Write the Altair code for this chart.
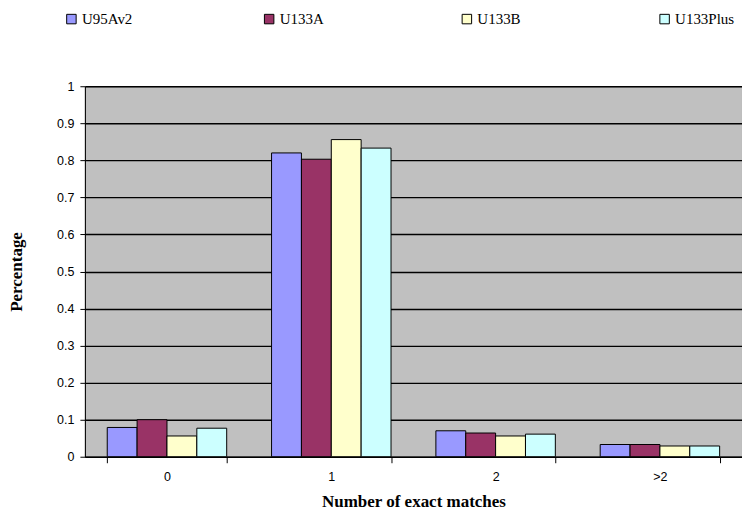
import altair as alt
import pandas as pd

categories = ["0", "1", "2", ">2"]
series = ["U95Av2", "U133A", "U133B", "U133Plus"]
colors = ["#9999FF", "#993366", "#FFFFCC", "#CCFFFF"]

u95av2 = [0.079, 0.820, 0.070, 0.033]
u133a = [0.100, 0.803, 0.064, 0.033]
u133b = [0.056, 0.856, 0.056, 0.029]
u133plus = [0.077, 0.833, 0.061, 0.029]

rows = []
for name, vals in zip(series, [u95av2, u133a, u133b, u133plus]):
    for c, v in zip(categories, vals):
        rows.append({"cat": c, "series": name, "value": v})
df = pd.DataFrame(rows)

serif = "Liberation Serif"
sans = "Liberation Sans"

chart = alt.Chart(df).mark_bar(stroke="black", strokeWidth=1).encode(
    x=alt.X("cat:N", sort=categories,
            scale=alt.Scale(paddingInner=0.273, paddingOuter=0.136),
            axis=alt.Axis(title="Number of exact matches", labelAngle=0,
                          tickBand="extent", tickSize=6, tickColor="black",
                          domainColor="black", labelFont=sans, labelFontSize=12.5,
                          labelColor="black", labelPadding=8,
                          titleFont=serif, titleFontSize=17, titleFontWeight="bold",
                          titlePadding=10, grid=False)),
    xOffset=alt.XOffset("series:N", sort=series),
    y=alt.Y("value:Q",
            scale=alt.Scale(domain=[0, 1], nice=False),
            axis=alt.Axis(title="Percentage", values=[i / 10 for i in range(11)],
                          format="~g", tickSize=5, tickColor="black",
                          domainColor="black", gridColor="black", gridWidth=1.4,
                          labelFont=sans, labelFontSize=12.5, labelColor="black",
                          labelPadding=6,
                          titleFont=serif, titleFontSize=17, titleFontWeight="bold",
                          titlePadding=31)),
    color=alt.Color("series:N", sort=series,
                    scale=alt.Scale(domain=series, range=colors),
                    legend=alt.Legend(title=None, orient="none", direction="horizontal",
                                      legendX=-21, legendY=-75, columns=4,
                                      gridAlign="all", columnPadding=120,
                                      symbolType="square", symbolSize=90,
                                      symbolStrokeColor="black", symbolStrokeWidth=1,
                                      labelFont=serif, labelFontSize=15,
                                      labelColor="black", symbolOffset=0,
                                      labelOffset=3)),
).properties(
    width=658, height=371,
    autosize=alt.AutoSizeParams(type="none"),
    padding={"left": 77, "top": 78, "right": 0, "bottom": 54},
    background="white",
).configure_view(
    fill="#C0C0C0", stroke="#808080", strokeWidth=1
)

chart.save("out.html", embed_options={"renderer": "svg", "actions": False})
